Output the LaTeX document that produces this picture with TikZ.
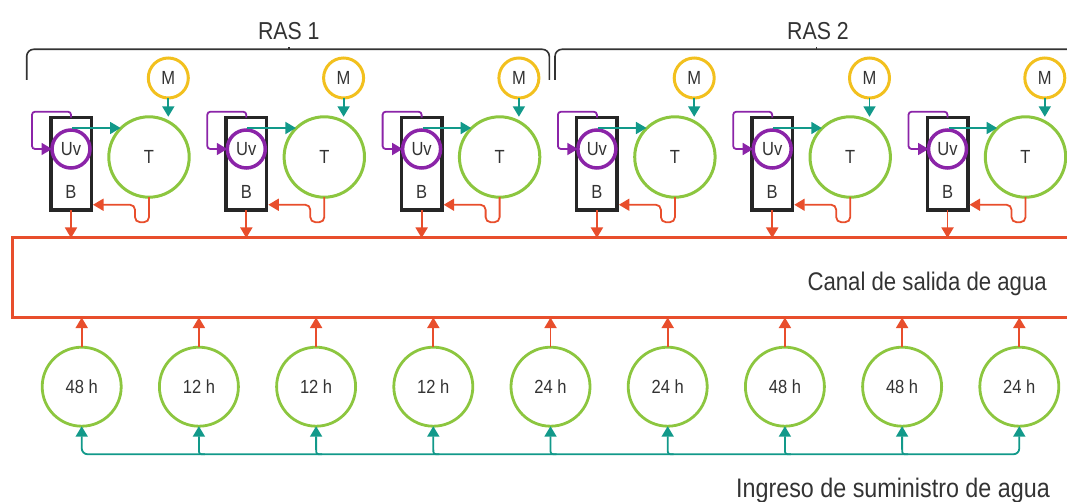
\documentclass[tikz,border=0pt]{standalone}
\usepackage{fontspec}
\setmainfont{Liberation Sans}[FakeStretch=0.87]
\usetikzlibrary{arrows.meta,calc}
\definecolor{cOr}{HTML}{E84E2C}
\definecolor{cGr}{HTML}{8CC63F}
\definecolor{cTe}{HTML}{12998A}
\definecolor{cPu}{HTML}{8B24A8}
\definecolor{cYe}{HTML}{F2C01E}
\definecolor{cTx}{HTML}{333333}
\tikzset{
  tipend/.style={-{Triangle[width=12pt,length=10.5pt]}},
  smalltxt/.style={text=cTx, font=\fontsize{19}{19}\selectfont, inner sep=0pt},
  bigtxt/.style={text=cTx, font=\fontsize{25.5}{26}\selectfont, inner sep=0pt},
  tank/.style={circle, draw=cGr, line width=3pt, minimum size=80.4pt, inner sep=0pt, outer sep=0pt, text=cTx, font=\fontsize{19}{19}\selectfont},
  hold/.style={circle, draw=cGr, line width=2.8pt, minimum size=79pt, inner sep=0pt, outer sep=0pt, text=cTx, font=\fontsize{19}{19}\selectfont},
  uvc/.style={circle, draw=cPu, fill=white, line width=3.5pt, minimum size=38pt, inner sep=0pt, outer sep=0pt, text=cTx, font=\fontsize{19}{19}\selectfont},
  mix/.style={circle, draw=cYe, line width=3pt, minimum size=40pt, inner sep=0pt, outer sep=0pt, text=cTx, font=\fontsize{19}{19}\selectfont},
  bbox/.style={rectangle, draw=black!85, line width=3.5pt, minimum width=40.5pt, minimum height=92.5pt, inner sep=0pt, outer sep=0pt},
  chanbox/.style={rectangle, draw=cOr, line width=3pt, inner sep=0pt, outer sep=0pt},
  orl/.style={draw=cOr, line width=1.8pt, tipend},
  tel/.style={draw=cTe, line width=1.8pt, tipend},
  pul/.style={draw=cPu, line width=1.8pt, tipend},
  brk/.style={draw=cTx, line width=1.6pt, rounded corners=7pt}
}
\begin{document}
\begin{tikzpicture}[x=1pt,y=-1pt]
\useasboundingbox (0,0) rectangle (1067,502);

% brackets
\coordinate (r1a) at (26.7,80);
\coordinate (r1m) at (288.8,49.3);
\coordinate (r1b) at (549.3,80);
\coordinate (r2a) at (555,80);
\coordinate (r2m) at (816.7,49.3);
\coordinate (r2b) at (1085,49.3);
\draw[brk] (r1a) |- (r1m) -| (r1b);
\draw[brk] (r2a) |- (r2m) -- (r2b);
\draw[draw=cTx, line width=1.4pt] (r1m) -- ++(0,-2.5);
\draw[draw=cTx, line width=1.4pt] (r2m) -- ++(0,-2.5);
\node[bigtxt, anchor=base, font=\fontsize{24.5}{25}\selectfont] (ras1) at (288.8,40) {RAS 1};
\node[bigtxt, anchor=base, font=\fontsize{24.5}{25}\selectfont] (ras2) at (818,40) {RAS 2};

% water outlet channel
\node[chanbox, anchor=north west, minimum width=1080pt, minimum height=79.5pt] (chan) at (12.5,238) {};
\node[bigtxt, anchor=base east] (canal) at (1047,290.7) {Canal de salida de agua};

% units
\foreach \i in {1,...,6}{
  \pgfmathsetmacro{\cx}{71+175.3*(\i-1)}
  \node[bbox] (B\i) at (\cx,164) {};
  \node[smalltxt] (Bl\i) at (\cx,192) {B};
  \node[uvc] (U\i) at (\cx,149) {Uv};
  \node[tank] (T\i) at (\cx+78,157) {T};
  \node[mix] (M\i) at (\cx+97.3,78) {M};
}
\foreach \i in {1,...,6}{
  \draw[tel] (M\i.south) -- (M\i.south |- T\i.north);
  \coordinate (ts\i) at ($(U\i.north)+(1,-2)$);
  \draw[tel] (ts\i) -- (ts\i -| T\i.135);
  \draw[pul, rounded corners=3pt] (B\i.north) -- ++(0,-6) -- ++(-39,0) |- (U\i.west);
  \coordinate (bt\i) at ($(B\i.south east)+(1.75,-5.5)$);
  \draw[orl, rounded corners=5pt] (T\i.south) |- ++(-14,25) |- (bt\i);
  \draw[orl] (B\i.south) -- (B\i.south |- chan.north);
}

% holding tanks
\coordinate (bus) at (0,454.3);
\foreach \k/\t in {1/48 h,2/12 h,3/12 h,4/12 h,5/24 h,6/24 h,7/48 h,8/48 h,9/24 h}{
  \node[hold] (H\k) at ({81.7+117.2*(\k-1)},386.7) {\t};
  \draw[orl] (H\k.north) -- (H\k.north |- chan.south);
  \coordinate (j\k) at (H\k.south |- bus);
}
\draw[tel, {Triangle[width=12pt,length=10.5pt]}-{Triangle[width=12pt,length=10.5pt]}, rounded corners=6pt] (H1.south) -- (j1) -- (j9) -- (H9.south);
\foreach \k in {2,...,8}{
  \draw[tel] ($(j\k)+(6,0)$) .. controls (j\k) .. ($(j\k)+(0,-6)$) -- (H\k.south);
}
\node[bigtxt, anchor=base east, font=\fontsize{26.8}{27}\selectfont] (ingreso) at (1050,497.3) {Ingreso de suministro de agua};
\end{tikzpicture}
\end{document}
